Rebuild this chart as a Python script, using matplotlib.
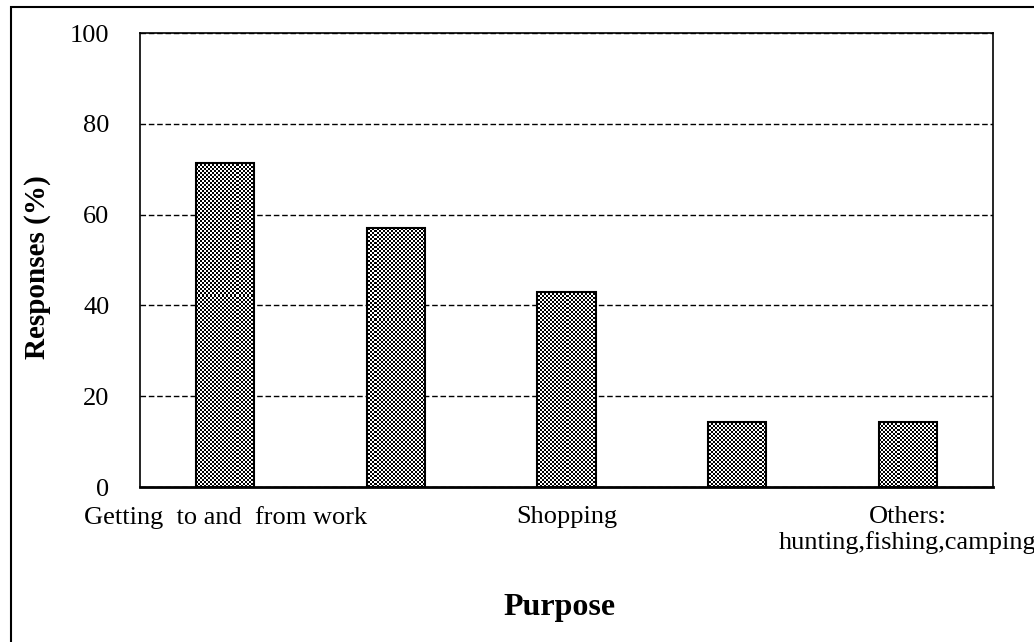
import numpy as np
import matplotlib.pyplot as plt
from matplotlib.patches import Rectangle

# datos
categorias = ['Getting  to and  from work', '', 'Shopping', '', 'Others:\nhunting,fishing,camping']
respuestas = [71.4, 57.1, 42.9, 14.3, 14.3]
yticks = [0, 20, 40, 60, 80, 100]

plt.rcParams['font.family'] = ['Liberation Serif', 'DejaVu Serif']
fig = plt.figure(figsize=(10.34, 6.42), dpi=100, facecolor='w')
ax = fig.add_axes([140/1034, 1-487/642, 853/1034, 454/642])

x = np.arange(len(categorias))
barras = ax.bar(x, respuestas, width=0.34, facecolor='none', edgecolor='black', linewidth=1.5, zorder=3)
ax.set_xlim(-0.5, len(categorias)-0.5)
ax.set_ylim(0, 100)

# relleno tipo damero
ny, nx = 454//2, 853//2
ii, jj = np.indices((ny, nx))
damero = ((ii + jj) % 2).astype(float)
for b in barras:
    im = ax.imshow(damero, cmap='gray', vmin=0, vmax=1, interpolation='nearest',
                   extent=[-0.5, len(categorias)-0.5, 0, 100], aspect='auto', zorder=2)
    im.set_clip_path(b)

ax.set_yticks(yticks)
ax.set_xticks(x)
ax.set_xticklabels(categorias, fontsize=19, linespacing=1.15)
ax.tick_params(axis='y', length=0, pad=22, labelsize=19)
ax.tick_params(axis='x', length=0, pad=14)
ax.yaxis.grid(True, linestyle=(0, (4, 2)), color='black', linewidth=1)
ax.set_axisbelow(True)
for s in ax.spines.values():
    s.set_color('black')
    s.set_linewidth(1.2)
ax.spines['bottom'].set_linewidth(2)

fig.text(38/1034, 1-267/642, 'Responses (%)', fontsize=21, fontweight='bold',
         rotation=90, ha='center', va='center')
fig.text(560/1034, 1-607/642, 'Purpose', fontsize=23, fontweight='bold',
         ha='center', va='center')

# marco exterior
fig.patches.append(Rectangle((11/1034, -0.1), 1.2, 1-7/642+0.1, transform=fig.transFigure,
                             fill=False, edgecolor='black', linewidth=1.5))

plt.savefig('out.png', dpi=100)
